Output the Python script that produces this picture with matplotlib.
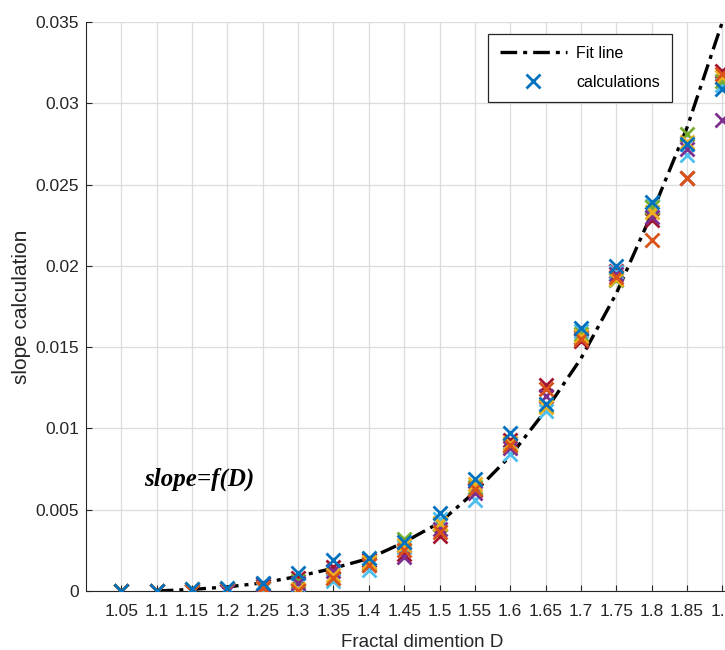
import matplotlib.pyplot as plt
import numpy as np

# fractal dimension values on the x axis
D = [1.05, 1.1, 1.15, 1.2, 1.25, 1.3, 1.35, 1.4, 1.45, 1.5,
     1.55, 1.6, 1.65, 1.7, 1.75, 1.8, 1.85, 1.9]

# slope calculations, one list per run
run1 = [0, 0, 0.0001, 0.0002, 0.0005, 0.0011, 0.0019, 0.0020, 0.0030, 0.0048,
        0.0069, 0.0097, 0.0115, 0.0162, 0.0200, 0.0239, 0.0275, 0.0309]
run2 = [0, 0, 0, 0.0001, 0.0002, 0.0000, 0.0008, 0.0016, 0.0025, 0.0036,
        0.0063, 0.0090, 0.0124, 0.0155, 0.0193, 0.0216, 0.0254, 0.0318]
run3 = [0, 0, 0, 0.0001, 0.0002, 0.0001, 0.0010, 0.0018, 0.0028, 0.0042,
        0.0066, 0.0091, 0.0113, 0.0157, 0.0192, 0.0233, 0.0276, 0.0316]
run4 = [0, 0, 0, 0.0000, 0.0003, 0.0005, 0.0012, 0.0016, 0.0021, 0.0038,
        0.0060, 0.0088, 0.0120, 0.0156, 0.0195, 0.0230, 0.0272, 0.0290]
run5 = [0, 0, 0.0001, 0.0001, 0.0003, 0.0006, 0.0008, 0.0017, 0.0032, 0.0041,
        0.0064, 0.0089, 0.0114, 0.0158, 0.0191, 0.0236, 0.0281, 0.0314]
run6 = [0, 0, 0, 0.0001, 0.0001, 0.0004, 0.0006, 0.0013, 0.0027, 0.0044,
        0.0056, 0.0084, 0.0111, 0.0160, 0.0196, 0.0237, 0.0268, 0.0311]
run7 = [0, 0, 0, 0.0000, 0.0004, 0.0008, 0.0015, 0.0019, 0.0023, 0.0034,
        0.0062, 0.0093, 0.0127, 0.0154, 0.0197, 0.0228, 0.0254, 0.0320]
runs = [run1, run2, run3, run4, run5, run6, run7]

# fitted curve
D_fit = [1.1, 1.15, 1.2, 1.25, 1.3, 1.35, 1.4, 1.45, 1.5,
         1.55, 1.6, 1.65, 1.7, 1.75, 1.8, 1.85, 1.9]
slope_fit = [0.0, 0.0001, 0.00025, 0.0005, 0.0009, 0.0014, 0.0020, 0.0030, 0.0042,
             0.0061, 0.0083, 0.0111, 0.0143, 0.0183, 0.0232, 0.0285, 0.0350]

colors = ['#0072BD', '#D95319', '#EDB120', '#7E2F8E', '#77AC30', '#4DBEEE', '#A2142F']
ink = '#262626'

plt.rcParams['font.family'] = ['Liberation Sans', 'DejaVu Sans']

fig = plt.figure(figsize=(7.25, 6.5), dpi=100)
ax = fig.add_axes([86 / 725, 59 / 650, 671.7 / 725, 569 / 650])

ax.plot(D_fit, slope_fit, color='black', lw=2.4, dashes=(5, 1.8, 1.2, 1.8),
        label='Fit line', zorder=3)
# first run drawn last so it sits on top
for i in reversed(range(len(runs))):
    ax.plot(D, runs[i], 'x', color=colors[i], ms=9.5, mew=2,
            label='calculations' if i == 0 else None, zorder=4)

ax.set_xlim(1.0, 1.95)
ax.set_ylim(0, 0.035)
ax.set_xticks(D)
ax.set_xticklabels(['%g' % d for d in D])
yt = np.arange(8) * 0.005
ax.set_yticks(yt)
ax.set_yticklabels(['%g' % round(v, 3) for v in yt])
ax.tick_params(direction='in', labelsize=12.5, colors=ink, length=4)
ax.tick_params(axis='x', pad=9)
ax.tick_params(axis='y', pad=5)
ax.grid(True, color='#dcdcdc', lw=0.9)
ax.set_axisbelow(True)
ax.spines['top'].set_visible(False)
ax.spines['right'].set_visible(False)
ax.spines['left'].set_color(ink)
ax.spines['bottom'].set_color(ink)

ax.set_xlabel('Fractal dimention D', fontsize=13.5, color=ink, labelpad=11)
ax.set_ylabel('slope calculation', fontsize=15, color=ink, labelpad=3)

ax.text(1.0825, 0.0069, 'slope=f(D)', fontsize=18, family='Liberation Serif',
        style='italic', weight='bold', va='center', ha='left')

handles, labels = ax.get_legend_handles_labels()
leg = ax.legend([handles[0], handles[-1]], [labels[0], labels[-1]],
                loc='upper right', bbox_to_anchor=(672 / 725, 1 - 34 / 650),
                bbox_transform=fig.transFigure, borderaxespad=0,
                fontsize=11.5, handlelength=4.2,
                labelspacing=0.85, borderpad=0.75, handletextpad=0.6,
                fancybox=False, framealpha=1, edgecolor=ink)
leg.get_frame().set_linewidth(0.9)

fig.savefig('out.png', dpi=100)
